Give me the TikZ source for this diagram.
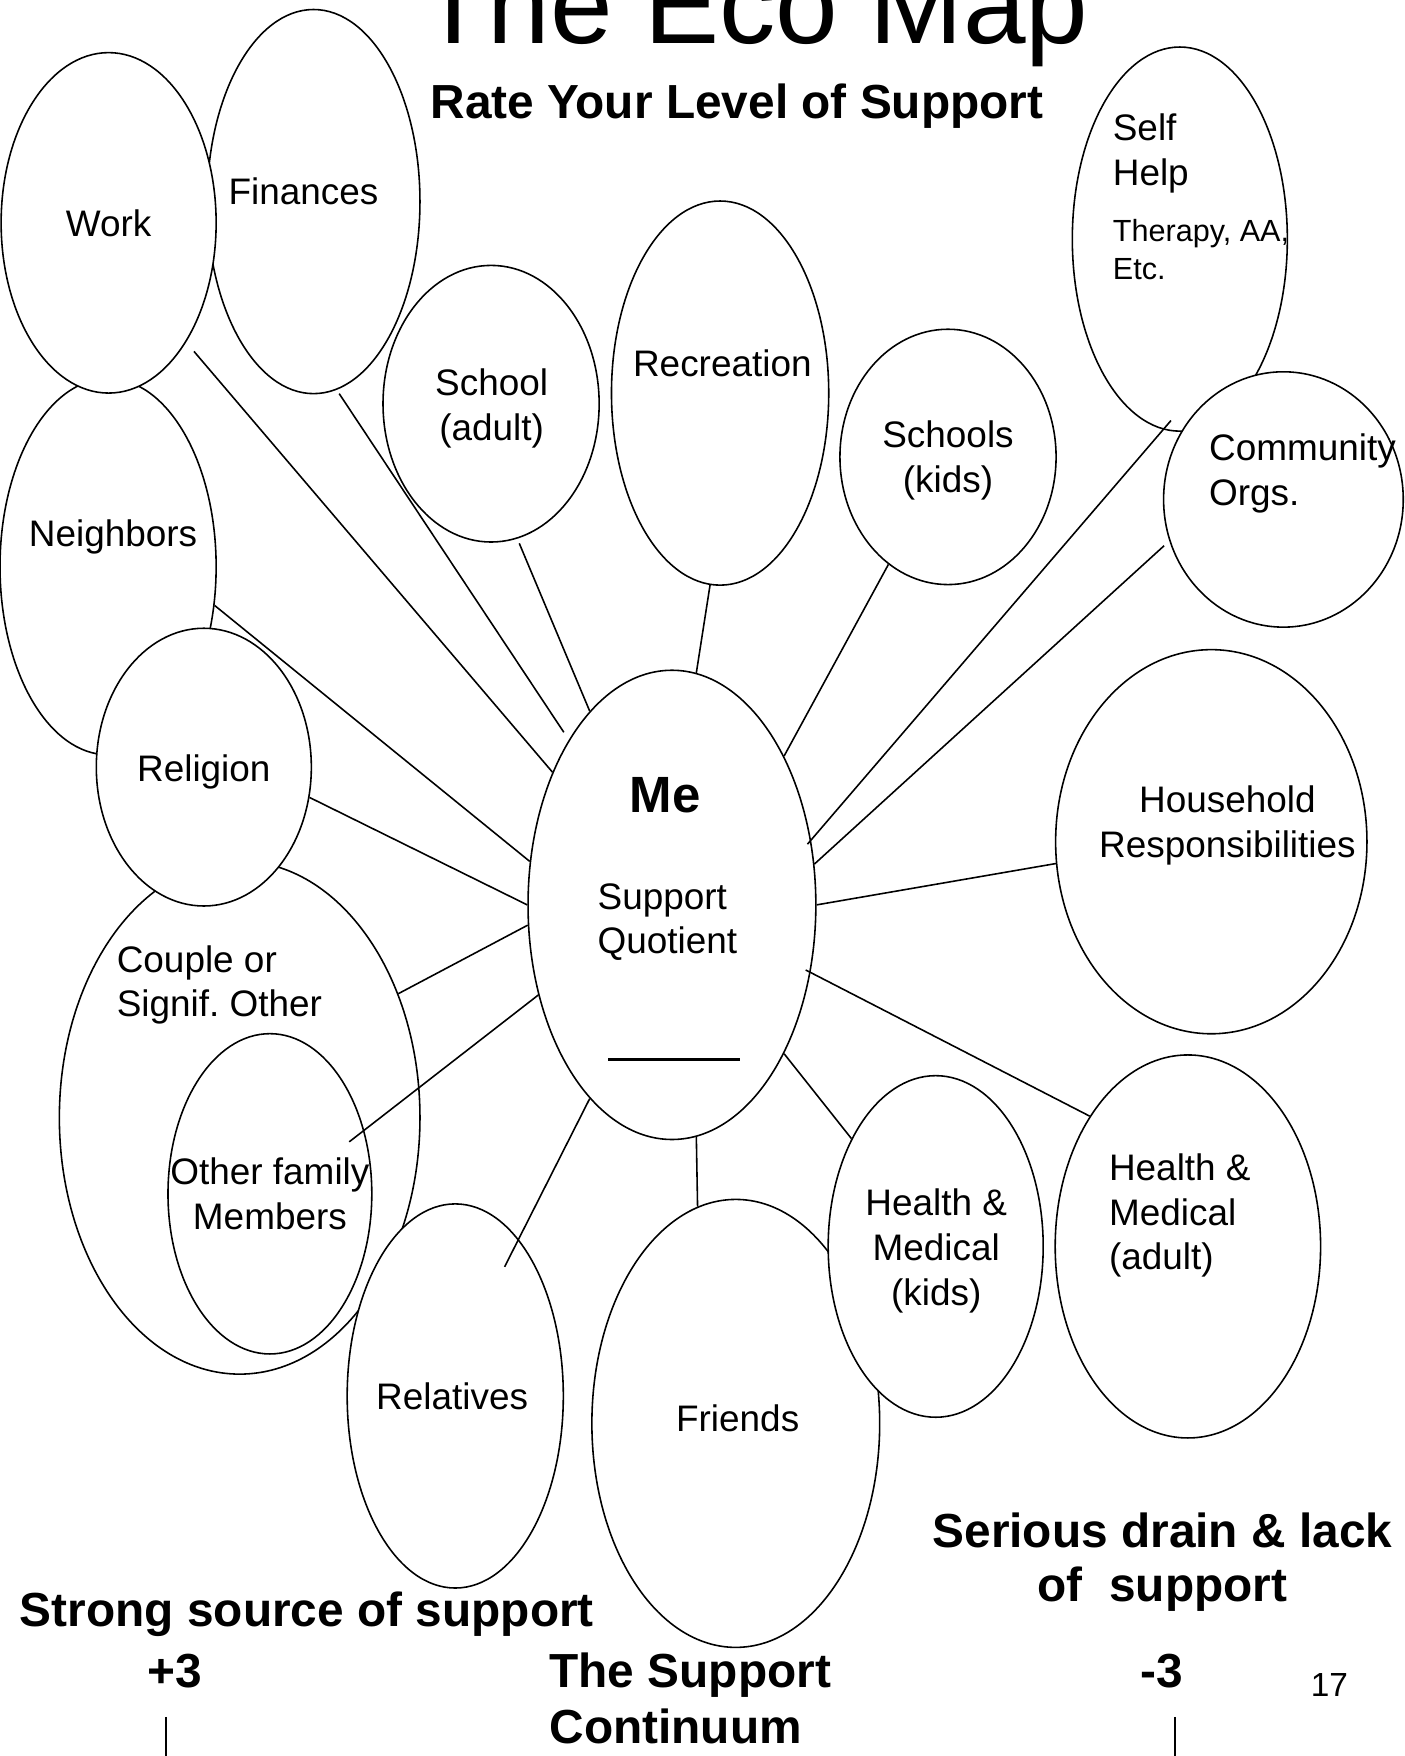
\documentclass[tikz,border=0pt]{standalone}
\usepackage{fontspec}
\setmainfont{Liberation Sans}
\usetikzlibrary{shapes.geometric}
\frenchspacing

\newcommand{\pxl}{0.11196mm}

\begin{document}
\begin{tikzpicture}[x=\pxl,y=-\pxl,line width=0.45pt,node font=\fontsize{10.5}{12.74}\selectfont]
	\tikzstyle{bubble}=[ellipse,draw,fill=white,inner sep=0pt]
	\tikzstyle{lbl}=[inner sep=0pt,anchor=base]
	\tikzstyle{heading}=[lbl,font=\fontsize{13.6}{15.5}\selectfont\bfseries]

	\useasboundingbox (0,0) rectangle (1254,1568);
	\clip (0,0) rectangle (1254,1568);
	\fill[white] (0,0) rectangle (1254,1568);

	% the bubbles, back to front
	\node[bubble,minimum width=190*\pxl,minimum height=343*\pxl] (finances)   at (280,180)      {};
	\node[bubble,minimum width=193*\pxl,minimum height=336*\pxl] (neighbors)  at (96.5,506)     {};
	\node[bubble,minimum width=192*\pxl,minimum height=304*\pxl] (work)       at (97,199)       {};
	\node[bubble,minimum width=322*\pxl,minimum height=458*\pxl] (couple)     at (214,998)      {};
	\node[bubble,minimum width=182*\pxl,minimum height=286*\pxl] (other)      at (241,1066)     {};
	\node[bubble,minimum width=193*\pxl,minimum height=343*\pxl] (relatives)  at (406.5,1246.5) {};
	\node[bubble,minimum width=192*\pxl,minimum height=248*\pxl] (religion)   at (182,685)      {};
	\node[bubble,minimum width=193*\pxl,minimum height=247*\pxl] (sadult)     at (438.5,360.5)  {};
	\node[bubble,minimum width=194*\pxl,minimum height=343*\pxl] (recreation) at (643,351)      {};
	\node[bubble,minimum width=193*\pxl,minimum height=228*\pxl] (skids)      at (846.5,408)    {};
	\node[bubble,minimum width=192*\pxl,minimum height=343*\pxl] (selfhelp)   at (1053.5,213.5) {};
	\node[bubble,minimum width=214*\pxl,minimum height=228*\pxl] (community)  at (1146,446)     {};
	\node[bubble,minimum width=278*\pxl,minimum height=343*\pxl] (household)  at (1081.6,751.6) {};
	\node[bubble,minimum width=237*\pxl,minimum height=342*\pxl] (hadult)     at (1060.7,1113)  {};
	\node[bubble,minimum width=257*\pxl,minimum height=400*\pxl] (friends)    at (657,1271)     {};
	\node[bubble,minimum width=192*\pxl,minimum height=305*\pxl] (hkids)      at (835.5,1113)   {};
	\node[bubble,minimum width=257*\pxl,minimum height=419*\pxl] (me)         at (600,808)      {};

	% spokes
	\path
	(me.132.7)  edge [shorten >=1.2mm] (work.-57)
	(me.122.6)  edge [shorten <=0.9mm,shorten >=0.45mm] (finances.-83.4)
	(me.113.7)  edge [shorten >=0.5mm] (sadult.-79.3)
	(me.84.1)   edge (recreation.-93.8)
	(me.53.7)   edge (skids.-119.6)
	(me.25.6)   edge [shorten <=-0.55mm,shorten >=-1.2mm] (selfhelp.-95.2)
	(me.16.5)   edge [shorten >=0.7mm] (community.200.5)
	(me.0)      edge (household.188.2)
	(me.-26)    edge [shorten <=-0.55mm] (hadult.127.6)
	(me.-53.7)  edge (hkids.128.3)
	(me.-84.2)  edge (friends.100.3)
	(me.-113.7) edge [shorten >=-3.1mm] (relatives.68.2)
	(me.-146.8) edge [shorten >=-1.9mm] (other.34.7)
	(me.188.9)  edge (couple.38.9)
	(me.180)    edge (religion.-16.8)
	(me.163.5)  edge (neighbors.-20.3);

	% texts in the bubbles (multi-line ones sit on their last line)
	\node[lbl] (worktxt)       at (97,210.8)   {Work};
	\node[lbl] (financestxt)   at (271,182.2)  {Finances};
	\node[lbl] (neighborstxt)  at (101,487.7)  {Neighbors};
	\node[lbl] (religiontxt)   at (182,698)    {Religion};
	\node[lbl,align=center] (sadulttxt)  at (439,393)     {School\\(adult)};
	\node[lbl] (recreationtxt) at (645,336)    {Recreation};
	\node[lbl,align=center] (skidstxt)   at (846.5,439.5) {Schools\\(kids)};
	\node[lbl,anchor=base west,align=left] (selfhelptxt) at (993,165.6) {Self\\Help};
	\node[lbl,anchor=base west,align=left,font=\fontsize{8.7}{10.6}\selectfont] (therapytxt) at (993,249.2) {Therapy, AA,\\Etc.};
	\node[lbl,anchor=base west,align=left] (communitytxt) at (1079,451) {Community\\Orgs.};
	\node[lbl,align=center] (householdtxt) at (1096,765.6) {Household\\Responsibilities};
	\node[lbl,anchor=base west,align=left] (hadulttxt) at (989.6,1134) {Health \&\\Medical\\(adult)};
	\node[lbl,align=center] (hkidstxt)   at (836,1165.6)  {Health \&\\Medical\\(kids)};
	\node[lbl] (friendstxt)    at (658.7,1277.8) {Friends};
	\node[lbl] (relativestxt)  at (403.7,1258.6) {Relatives};
	\node[lbl,align=center] (othertxt)   at (241,1097.7)  {Other family\\Members};
	\node[lbl,anchor=base west,align=left] (coupletxt) at (103.6,908) {Couple or\\Signif. Other};
	\node[lbl,font=\fontsize{14.5}{17}\selectfont\bfseries] (metxt) at (594,725.7) {Me};
	\node[lbl,anchor=base west,align=left] (quotienttxt) at (533,851.7) {Support\\Quotient};
	\node[inner sep=0pt] (blank) at (602,946) {\rule{13.2mm}{0.7pt}};

	% headings
	\node[lbl,font=\fontsize{32}{38}\selectfont] (title) at (673,38.7) {The Eco Map};
	\node[heading] (rate) at (658,105.7) {Rate Your Level of Support};
	\node[heading] (strong) at (274,1452) {Strong source of support};
	\node[heading,align=center,font=\fontsize{13.6}{15.4}\selectfont\bfseries] (drain) at (1038,1430) {Serious drain \& lack\\of~~support};
	\node[heading] (plus) at (156,1507) {+3};
	\node[heading] (minus) at (1037,1507) {-3};
	\node[heading,anchor=base west,align=left,font=\fontsize{13.6}{15.9}\selectfont\bfseries] (continuum) at (490,1557) {The Support\\Continuum};
	\node[lbl,font=\fontsize{9.5}{11}\selectfont] (page) at (1187,1515) {17};

	% ends of the continuum
	\coordinate (plustick) at (148,1533);
	\coordinate (minustick) at (1049,1533);
	\draw (plustick) -- ++(0,40);
	\draw (minustick) -- ++(0,40);
\end{tikzpicture}
\end{document}
